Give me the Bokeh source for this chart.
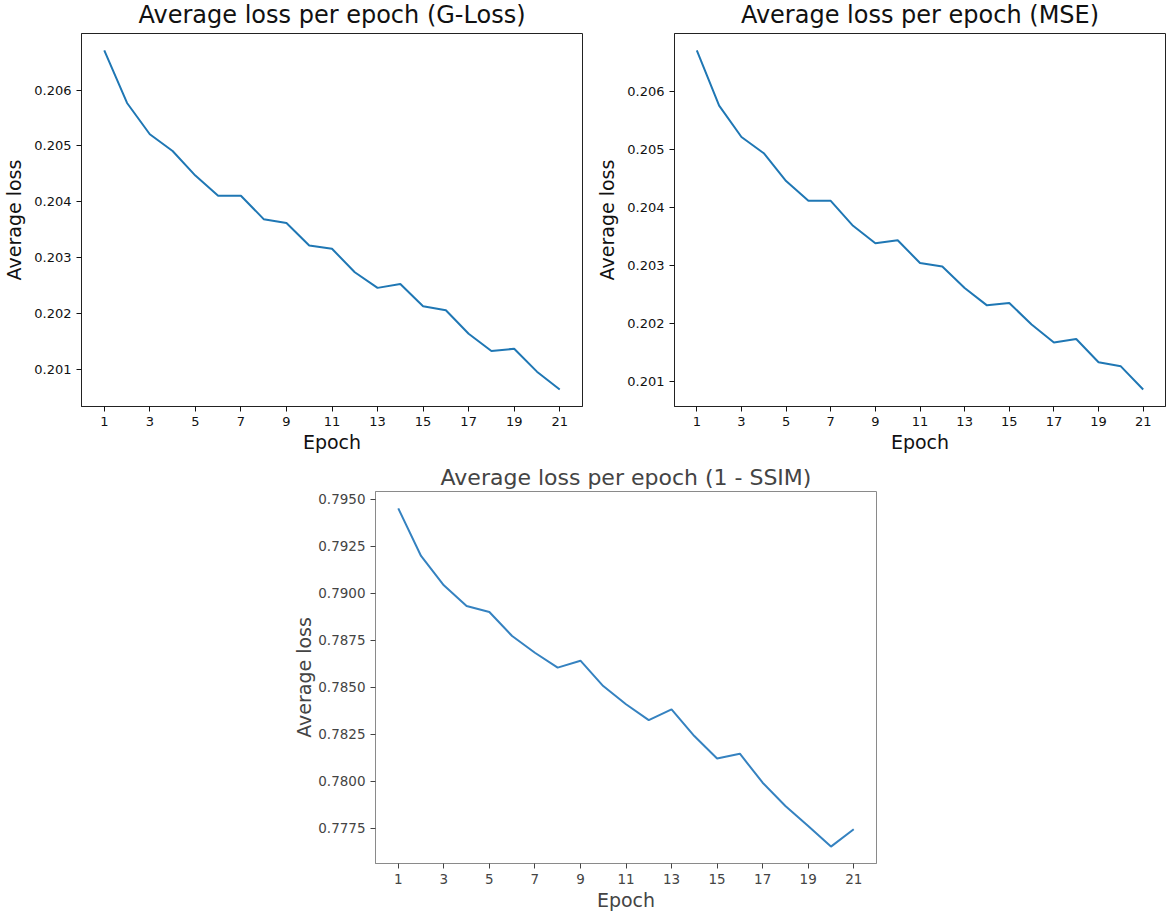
from bokeh.plotting import figure
from bokeh.layouts import column, row
from bokeh.models import Range1d, FixedTicker, PrintfTickFormatter, Spacer
from bokeh.embed import file_html
from bokeh.resources import INLINE

# ---------------- data ----------------
epochs = list(range(1, 22))
x_ticks = [1, 3, 5, 7, 9, 11, 13, 15, 17, 19, 21]

gloss = [0.20671, 0.20577, 0.20521, 0.20491, 0.20447, 0.20411, 0.20411,
         0.20369, 0.20362, 0.20322, 0.20316, 0.20274, 0.20246, 0.20253,
         0.20213, 0.20206, 0.20164, 0.20133, 0.20137, 0.20096, 0.20064]

mse = [0.20670, 0.20575, 0.20521, 0.20493, 0.20445, 0.20411, 0.20411,
       0.20368, 0.20338, 0.20343, 0.20304, 0.20298, 0.20261, 0.20231,
       0.20235, 0.20198, 0.20167, 0.20173, 0.20133, 0.20126, 0.20086]

ssim = [0.79452, 0.79199, 0.79043, 0.78933, 0.78901, 0.78773, 0.78684,
        0.78605, 0.78642, 0.78507, 0.78410, 0.78326, 0.78383, 0.78241,
        0.78122, 0.78147, 0.77993, 0.77869, 0.77762, 0.77653, 0.77745]

top_y_ticks = [0.201, 0.202, 0.203, 0.204, 0.205, 0.206]
bottom_y_ticks = [0.7775, 0.7800, 0.7825, 0.7850, 0.7875, 0.7900, 0.7925, 0.7950]

titles = ["Average loss per epoch (G-Loss)",
          "Average loss per epoch (MSE)",
          "Average loss per epoch (1 - SSIM)"]
x_label = "Epoch"
y_label = "Average loss"


def pad_range(vals, frac=0.05):
    lo, hi = min(vals), max(vals)
    d = (hi - lo) * frac
    return Range1d(lo - d, hi + d)


def make_panel(title, yvals, yticks, fmt, text_color, line_color, outline_color,
               border_left, border_right, border_top, border_bottom,
               fw, fh, title_size, title_standoff, label_standoff, tick_size):
    p = figure(output_backend="svg", toolbar_location=None,
               frame_width=fw, frame_height=fh,
               min_border_left=border_left, min_border_right=border_right,
               min_border_top=border_top, min_border_bottom=border_bottom,
               x_range=pad_range(epochs), y_range=pad_range(yvals),
               background_fill_color="white", border_fill_color="white")
    p.line(epochs, yvals, line_color=line_color, line_width=2)

    p.title.text = title
    p.title.align = "center"
    p.title.text_font = "DejaVu Sans"
    p.title.text_font_size = title_size
    p.title.text_font_style = "normal"
    p.title.text_color = text_color
    p.title.standoff = title_standoff

    p.xgrid.visible = False
    p.ygrid.visible = False
    p.outline_line_color = outline_color
    p.outline_line_width = 1
    p.outline_line_alpha = 1

    p.xaxis.ticker = FixedTicker(ticks=x_ticks)
    p.yaxis.ticker = FixedTicker(ticks=yticks)
    p.yaxis.formatter = PrintfTickFormatter(format=fmt)

    for ax in (p.xaxis[0], p.yaxis[0]):
        ax.axis_line_color = outline_color
        ax.major_tick_line_color = text_color
        ax.major_tick_out = 5
        ax.major_tick_in = 0
        ax.minor_tick_line_color = None
        ax.major_label_standoff = 5
        ax.major_label_text_font = "DejaVu Sans"
        ax.major_label_text_font_size = tick_size
        ax.major_label_text_color = text_color
        ax.axis_label_text_font = "DejaVu Sans"
        ax.axis_label_text_font_size = "19px"
        ax.axis_label_text_font_style = "normal"
        ax.axis_label_text_color = text_color
    p.xaxis.axis_label = x_label
    p.yaxis.axis_label = y_label
    p.xaxis.axis_label_standoff = 2
    p.yaxis.axis_label_standoff = label_standoff
    return p


p1 = make_panel(titles[0], gloss, top_y_ticks, "%.3f", "#111111", "#1f77b4", "#222222",
                75, 11, 31, 50, 501, 373, "24px", 10, 6, "13px")
p2 = make_panel(titles[1], mse, top_y_ticks, "%.3f", "#111111", "#1f77b4", "#222222",
                75, 1, 31, 50, 491, 373, "24px", 10, 6, "13px")
p3 = make_panel(titles[2], ssim, bottom_y_ticks, "%.4f", "#444444", "#3582c0", "#8a8a8a",
                88, 10, 35, 45, 501, 372, "22px", 3, 0, "13.5px")

layout = column(row(p1, p2), row(Spacer(width=287, height=10), p3),
                margin=(-7, 0, 0, 0))

open("out.html", "w").write(file_html(layout, INLINE))
